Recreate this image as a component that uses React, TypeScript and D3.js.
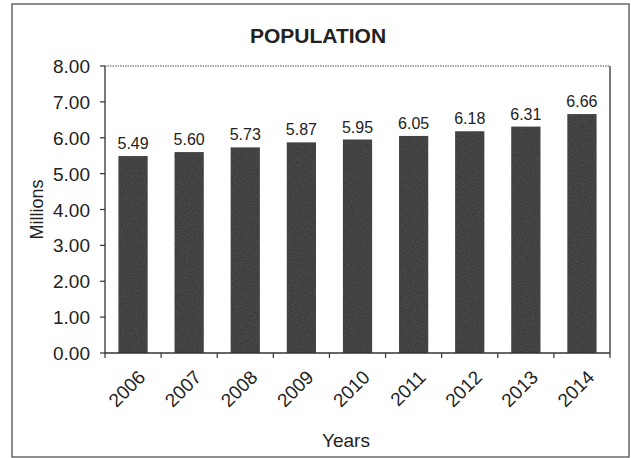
import React from "react";
import * as d3 from "d3";

const years = ["2006", "2007", "2008", "2009", "2010", "2011", "2012", "2013", "2014"];
const population = [5.49, 5.6, 5.73, 5.87, 5.95, 6.05, 6.18, 6.31, 6.66];
const yTicks = [0, 1, 2, 3, 4, 5, 6, 7, 8];

const W = 631;
const H = 458;
const M = { left: 105, right: 610, top: 66, bottom: 353 };
const FONT = "'Liberation Sans', Arial, sans-serif";

export default function App() {
  const x = d3.scaleBand<string>().domain(years).range([M.left, M.right]).paddingInner(0.48).paddingOuter(0.24);
  const band = d3.scaleBand<string>().domain(years).range([M.left, M.right]);
  const y = d3.scaleLinear().domain([0, 8]).range([M.bottom, M.top]);
  const fmt = d3.format(".2f");

  return (
    <svg width={W} height={H} style={{ position: "absolute", left: 0, top: 0, background: "#fff" }}>
      <defs>
        <filter id="grain" x="0" y="0" width="100%" height="100%">
          <feTurbulence type="fractalNoise" baseFrequency="0.9" numOctaves="2" seed="3" result="n" />
          <feColorMatrix type="matrix" values="0 0 0 0 0.2  0 0 0 0 0.2  0 0 0 0 0.2  0 0 0 0.35 0" in="n" result="c" />
          <feComposite in="c" in2="SourceGraphic" operator="in" result="t" />
          <feMerge>
            <feMergeNode in="SourceGraphic" />
            <feMergeNode in="t" />
          </feMerge>
        </filter>
      </defs>
      <rect x={12} y={4} width={617} height={453} fill="#fff" stroke="#444" strokeWidth={1.2} />
      <text x={318} y={43} textAnchor="middle" fontFamily={FONT} fontWeight="bold" fontSize={21} fill="#222">
        POPULATION
      </text>
      <line x1={M.left} x2={M.right} y1={M.top} y2={M.top} stroke="#555" strokeWidth={1.2} strokeDasharray="1.5 1" />
      <line x1={M.right} x2={M.right} y1={M.top} y2={M.bottom} stroke="#333" strokeWidth={1.3} />
      {years.map((yr, i) => (
        <rect
          key={yr}
          x={x(yr)}
          y={y(population[i])}
          width={x.bandwidth()}
          height={M.bottom - y(population[i])}
          fill="#2f2f2f"
          filter="url(#grain)"
        />
      ))}
      {years.map((yr, i) => (
        <text
          key={"l" + yr}
          x={(x(yr) as number) + x.bandwidth() / 2}
          y={y(population[i]) - 7}
          textAnchor="middle"
          fontFamily={FONT}
          fontSize={16}
          fill="#222"
        >
          {fmt(population[i])}
        </text>
      ))}
      <line x1={M.left} x2={M.left} y1={M.top} y2={M.bottom} stroke="#333" strokeWidth={1.3} />
      {yTicks.map((t) => (
        <g key={t}>
          <line x1={M.left - 5} x2={M.left} y1={y(t)} y2={y(t)} stroke="#333" strokeWidth={1.2} />
          <text x={M.left - 15} y={y(t) + 7} textAnchor="end" fontFamily={FONT} fontSize={19} fill="#222">
            {fmt(t)}
          </text>
        </g>
      ))}
      <line x1={M.left} x2={M.right} y1={M.bottom} y2={M.bottom} stroke="#333" strokeWidth={1.3} />
      {years.map((yr) => {
        const bx = band(yr) as number;
        return <line key={"t" + yr} x1={bx} x2={bx} y1={M.bottom} y2={M.bottom + 5} stroke="#333" strokeWidth={1.2} />;
      })}
      <line x1={M.right} x2={M.right} y1={M.bottom} y2={M.bottom + 5} stroke="#333" strokeWidth={1.2} />
      {years.map((yr) => {
        const cx = (band(yr) as number) + band.bandwidth() / 2 + 4;
        const cy = M.bottom + 16;
        return (
          <text
            key={"x" + yr}
            transform={`translate(${cx},${cy}) rotate(-45)`}
            textAnchor="end"
            dy="0.7em"
            fontFamily={FONT}
            fontSize={19}
            fill="#222"
          >
            {yr}
          </text>
        );
      })}
      <text x={346} y={447} textAnchor="middle" fontFamily={FONT} fontSize={19} fill="#222">
        Years
      </text>
      <text
        transform={`translate(43,${(M.top + M.bottom) / 2}) rotate(-90)`}
        textAnchor="middle"
        fontFamily={FONT}
        fontSize={18}
        fill="#222"
      >
        Millions
      </text>
    </svg>
  );
}
